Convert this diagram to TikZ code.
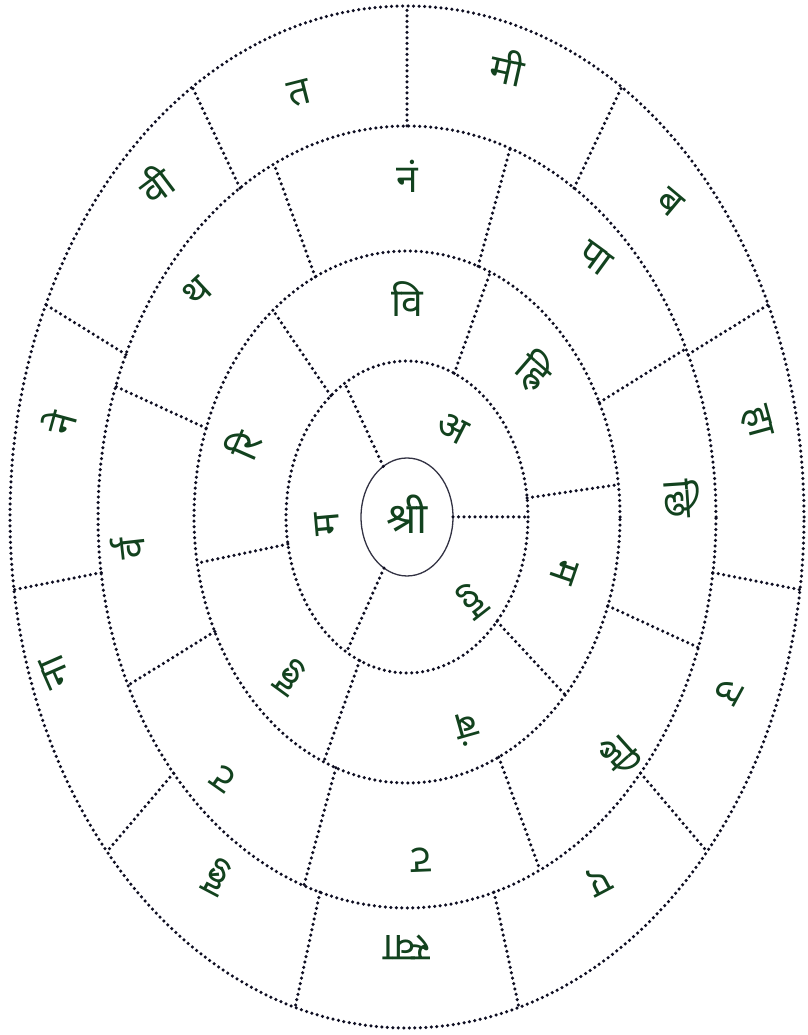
\documentclass[tikz,border=0pt]{standalone}
\usepackage{fontspec}
\newfontfamily\deva[Script=Devanagari]{Noto Sans}
\definecolor{ink}{RGB}{14,14,34}
\definecolor{leaf}{RGB}{18,66,30}
\tikzset{
  dotline/.style={ink, line width=3.5pt, line cap=round, dash pattern=on 0pt off 5.5pt},
  akshar/.style={leaf, font=\deva\fontsize{39}{44}\selectfont, inner sep=0pt},
}

\begin{document}
\begin{tikzpicture}[x=1pt, y=1pt]
    \useasboundingbox (0,0) rectangle (807,1035);
    \begin{scope}[shift={(407,518)}]
        % Centre
        \draw[ink!85, line width=1.3pt] (0,0) ellipse (46 and 59);
        \node[akshar, font=\deva\fontsize{43}{48}\selectfont] (shri) at (0,3) {श्री};

        % Rings
        \foreach \rx/\ry in {121/156, 213/266, 309/391, 397/511}
            \draw[dotline] (0,0) ellipse ({\rx} and {\ry});

        % Dividers, ring by ring
        \foreach \a in {121,0,-120}
            \draw[dotline] (\a:46 and 59) -- (\a:121 and 156);
        \foreach \a in {129,67,7,-42,-113,-170}
            \draw[dotline] (\a:121 and 156) -- (\a:213 and 266);
        \foreach \k in {0,...,7}
            \draw[dotline] ({25.5+45*\k}:213 and 266) -- ({25.5+45*\k}:309 and 391);
        \foreach \k in {0,...,10}
            \draw[dotline] ({90-360/11*\k}:309 and 391) -- ({90-360/11*\k}:397 and 511);

        % Letters (angle/radius/text), tops turned outwards
        \foreach \a/\r/\t [count=\i] in {57/83/अ, -45/92/हु, -176/80/म}
            \node[akshar, rotate={atan2(1.28*sin(\a),cos(\a))-90}] (a\i) at ({\r*cos(\a)},{1.28*\r*sin(\a)}) {\t};
        \foreach \a/\r/\t [count=\i] in {90/170/वि, 42/171/ह्रि, -15/163/म, -70/176/बं, -133/171/ह्रु, 161/174/रि}
            \node[akshar, rotate={atan2(1.28*sin(\a),cos(\a))-90}] (b\i) at ({\r*cos(\a)},{1.28*\r*sin(\a)}) {\t};
        \foreach \a/\r/\t [count=\i] in {90/266/नं, 47/276/पा, 3/276/छि, -41/282/ह्रि, -87/268/ट, -132/275/ट, -175/280/र्व, 140/274/थ}
            \node[akshar, rotate={atan2(1.28*sin(\a),cos(\a))-90}] (c\i) at ({\r*cos(\a)},{1.28*\r*sin(\a)}) {\t};
        \foreach \a/\r/\t [count=\i] in {108/348/त, 74/366/मी, 43/360/ब, 12/357/हा, -23/350/उ, -56/343/ए, -90/336/स्वा, -124/339/ह्रु, -161/372/ना, 168/356/ने, 134/362/वी}
            \node[akshar, rotate={atan2(1.28*sin(\a),cos(\a))-90}] (d\i) at ({\r*cos(\a)},{1.28*\r*sin(\a)}) {\t};
    \end{scope}
\end{tikzpicture}
\end{document}
